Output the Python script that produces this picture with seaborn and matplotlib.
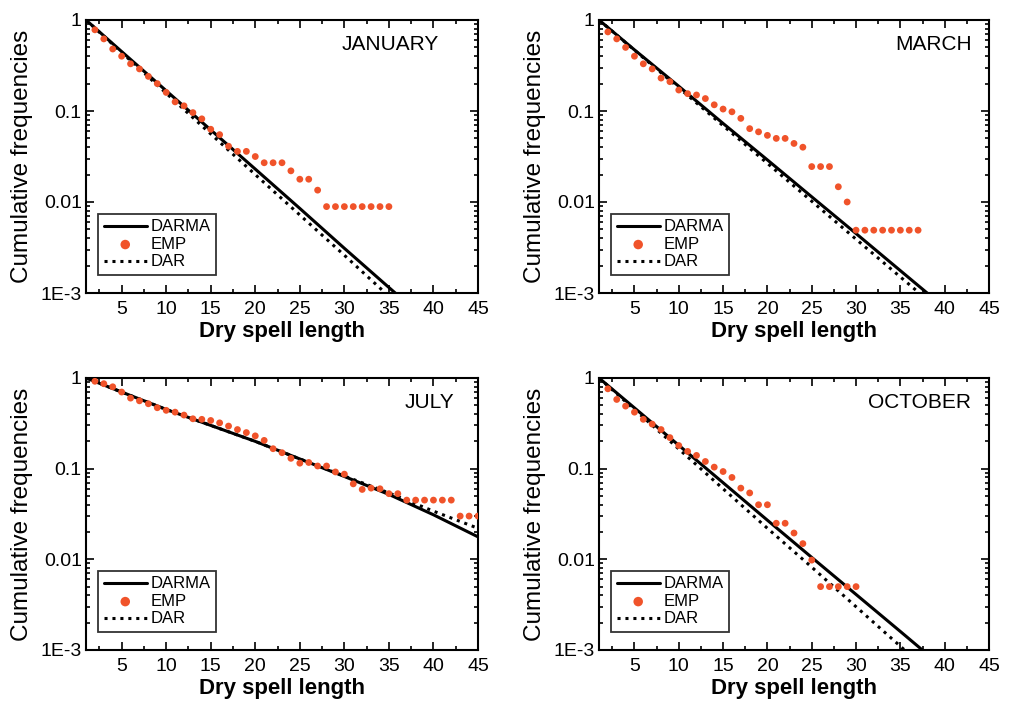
import numpy as np
import matplotlib
matplotlib.use("Agg")
import matplotlib.pyplot as plt
import pandas as pd
import seaborn as sns
from matplotlib.ticker import FixedLocator, MultipleLocator, LogLocator, NullFormatter

# x positions of the model curves (read every 5 days)
line_x = [1, 5, 10, 15, 20, 25, 30, 35, 40, 45]

jan_darma = [1, 0.45, 0.167, 0.062, 0.023, 0.0085, 0.0031, 0.00115, 0.00043, 0.00016]
jan_dar = [1, 0.44, 0.157, 0.056, 0.020, 0.0072, 0.0026, 0.00092, 0.00033, 0.00012]
jan_emp = [0.78, 0.62, 0.48, 0.40, 0.33, 0.29, 0.24, 0.20, 0.16, 0.126, 0.114, 0.096,
           0.082, 0.063, 0.055, 0.041, 0.036, 0.036, 0.0316, 0.027, 0.027, 0.027, 0.022,
           0.0178, 0.0178, 0.0135, 0.0089, 0.0089, 0.0089, 0.0089, 0.0089, 0.0089,
           0.0089, 0.0089]

mar_darma = [1, 0.47, 0.187, 0.073, 0.029, 0.0114, 0.0045, 0.00176, 0.00069, 0.00027]
mar_dar = [1, 0.466, 0.18, 0.069, 0.0266, 0.0102, 0.0039, 0.0015, 0.00058, 0.00022]
mar_emp = [0.74, 0.62, 0.50, 0.40, 0.33, 0.29, 0.23, 0.21, 0.17, 0.155, 0.15, 0.137,
           0.117, 0.105, 0.098, 0.083, 0.064, 0.059, 0.054, 0.050, 0.050, 0.044, 0.040,
           0.0245, 0.0245, 0.0245, 0.0147, 0.010, 0.0049, 0.0049, 0.0049, 0.0049,
           0.0049, 0.0049, 0.0049, 0.0049]

jul_darma = [1, 0.70, 0.45, 0.30, 0.20, 0.128, 0.082, 0.052, 0.031, 0.0177]
jul_dar = [1, 0.70, 0.45, 0.30, 0.20, 0.128, 0.083, 0.054, 0.034, 0.022]
jul_emp = [0.92, 0.865, 0.80, 0.70, 0.60, 0.56, 0.52, 0.47, 0.44, 0.42, 0.39, 0.355,
           0.35, 0.34, 0.32, 0.295, 0.27, 0.25, 0.23, 0.205, 0.166, 0.15, 0.13, 0.115,
           0.117, 0.107, 0.107, 0.092, 0.087, 0.068, 0.059, 0.061, 0.060, 0.053, 0.053,
           0.045, 0.045, 0.045, 0.045, 0.045, 0.045, 0.030, 0.030, 0.030]

oct_darma = [1, 0.468, 0.181, 0.070, 0.027, 0.0105, 0.0041, 0.0016, 0.00062, 0.00024]
oct_dar = [1, 0.45, 0.165, 0.060, 0.022, 0.0082, 0.0030, 0.0011, 0.0004, 0.00015]
oct_emp = [0.76, 0.58, 0.49, 0.42, 0.35, 0.31, 0.27, 0.22, 0.18, 0.155, 0.14, 0.12,
           0.104, 0.093, 0.080, 0.061, 0.054, 0.040, 0.040, 0.025, 0.025, 0.0195,
           0.0149, 0.0098, 0.005, 0.005, 0.005, 0.005, 0.005]

months = ["JANUARY", "MARCH", "JULY", "OCTOBER"]
x_ticks = [5, 10, 15, 20, 25, 30, 35, 40, 45]
y_ticks = [1, 0.1, 0.01, 0.001]
y_labels = ["1", "0.1", "0.01", "1E-3"]

sns.set_theme(style="ticks")
plt.rcParams["font.family"] = ["Liberation Sans", "DejaVu Sans"]
plt.rcParams["text.color"] = "black"
plt.rcParams["axes.labelcolor"] = "black"
plt.rcParams["xtick.color"] = "black"
plt.rcParams["ytick.color"] = "black"

fig = plt.figure(figsize=(10.09, 7.07), dpi=100)
boxes = [
    [86 / 1009, 1 - 293 / 707, 392 / 1009, 273 / 707],
    [599 / 1009, 1 - 293 / 707, 390 / 1009, 273 / 707],
    [86 / 1009, 1 - 650 / 707, 392 / 1009, 272 / 707],
    [599 / 1009, 1 - 650 / 707, 390 / 1009, 272 / 707],
]
panels = [
    (jan_darma, jan_dar, jan_emp, 0.90),
    (mar_darma, mar_dar, mar_emp, 0.955),
    (jul_darma, jul_dar, jul_emp, 0.94),
    (oct_darma, oct_dar, oct_emp, 0.955),
]
emp_color = "#f0532a"

for box, month, (darma, dar, emp, tx) in zip(boxes, months, panels):
    ax = fig.add_axes(box)
    emp_x = list(range(2, 2 + len(emp)))
    sns.lineplot(x=line_x, y=darma, ax=ax, color="black", lw=2.2, label="DARMA")
    sns.scatterplot(x=emp_x, y=emp, ax=ax, color=emp_color, s=24, edgecolor="none",
                    label="EMP", zorder=3)
    sns.lineplot(x=line_x, y=dar, ax=ax, color="black", lw=2.2,
                 linestyle=(0, (1, 1.6)), label="DAR")
    ax.set_yscale("log")
    ax.set_xlim(1, 45)
    ax.set_ylim(1e-3, 1)
    ax.xaxis.set_major_locator(FixedLocator(x_ticks))
    ax.xaxis.set_minor_locator(MultipleLocator(2.5))
    ax.set_xticklabels([str(t) for t in x_ticks])
    ax.yaxis.set_major_locator(FixedLocator(y_ticks))
    ax.set_yticklabels(y_labels)
    ax.yaxis.set_minor_locator(LogLocator(base=10, subs=np.arange(2, 10)))
    ax.yaxis.set_minor_formatter(NullFormatter())
    ax.tick_params(which="both", direction="in", top=True, right=True,
                   labelsize=14, width=1.2, color="black", labelcolor="black")
    ax.tick_params(which="major", length=6)
    ax.tick_params(axis="x", which="major", pad=6)
    ax.tick_params(axis="y", which="major", pad=3)
    ax.tick_params(which="minor", length=3)
    for sp in ax.spines.values():
        sp.set_linewidth(1.5)
        sp.set_color("black")
    ax.set_xlabel("Dry spell length", fontsize=16, fontweight="bold", labelpad=2)
    ax.set_ylabel("Cumulative frequencies", fontsize=17.5)
    ax.yaxis.set_label_coords(-0.135, 0.5)
    ax.text(tx, 0.91, month, transform=ax.transAxes, ha="right", va="center",
            fontsize=15, color="black")
    leg = ax.legend(loc="lower left", bbox_to_anchor=(0.03, 0.065), fontsize=12,
                    frameon=True, fancybox=False, handlelength=2.6,
                    handletextpad=0.2, labelspacing=0.15, borderpad=0.35,
                    borderaxespad=0, markerscale=1.4, labelcolor="black")
    leg.get_frame().set_edgecolor("black")
    leg.get_frame().set_linewidth(1.3)

fig.savefig("out.png", dpi=100, facecolor="white")
